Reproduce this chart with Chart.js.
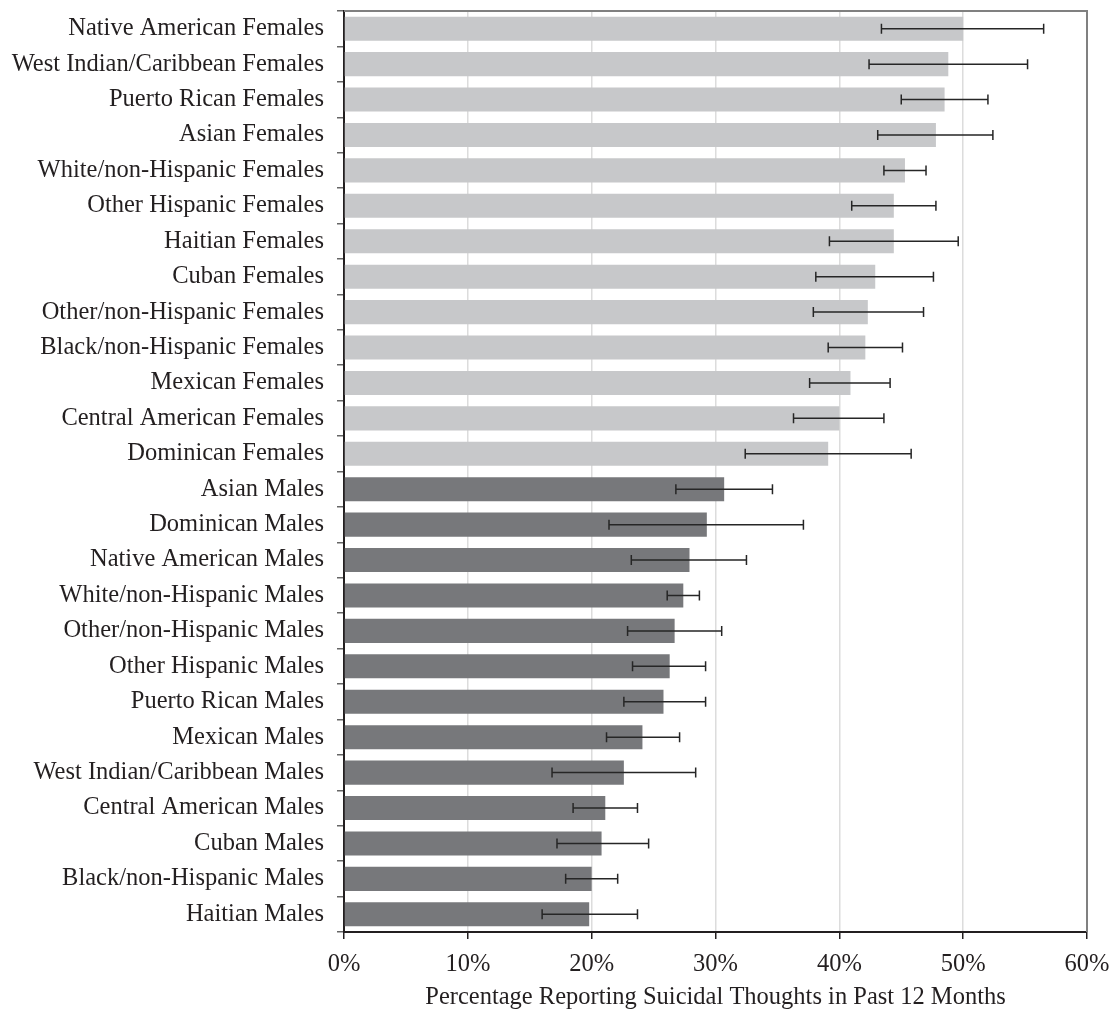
<!DOCTYPE html>
<html>
<head>
<meta charset="utf-8">
<script src="https://cdn.jsdelivr.net/npm/chart.js@4/dist/chart.umd.min.js"></script>
<style>
  html, body { margin: 0; padding: 0; background: #ffffff; }
  #wrap { width: 1113px; height: 1009px; position: relative; }
</style>
</head>
<body>
<div id="wrap"><canvas id="chart"></canvas></div>
<script>
// Groups, ordered top to bottom
const categories = [
  "Native American Females", "West Indian/Caribbean Females", "Puerto Rican Females",
  "Asian Females", "White/non-Hispanic Females", "Other Hispanic Females",
  "Haitian Females", "Cuban Females", "Other/non-Hispanic Females",
  "Black/non-Hispanic Females", "Mexican Females", "Central American Females",
  "Dominican Females", "Asian Males", "Dominican Males", "Native American Males",
  "White/non-Hispanic Males", "Other/non-Hispanic Males", "Other Hispanic Males",
  "Puerto Rican Males", "Mexican Males", "West Indian/Caribbean Males",
  "Central American Males", "Cuban Males", "Black/non-Hispanic Males", "Haitian Males"
];

// Percent reporting suicidal thoughts in the past 12 months
const percentValues = [
  50.0, 48.8, 48.5, 47.8, 45.3, 44.4, 44.4, 42.9, 42.3, 42.1, 40.9, 40.0, 39.1,
  30.7, 29.3, 27.9, 27.4, 26.7, 26.3, 25.8, 24.1, 22.6, 21.1, 20.8, 20.0, 19.8
];

// Confidence interval bounds
const ciLower = [
  43.4, 42.4, 45.0, 43.1, 43.6, 41.0, 39.2, 38.1, 37.9, 39.1, 37.6, 36.3, 32.4,
  26.8, 21.4, 23.2, 26.1, 22.9, 23.3, 22.6, 21.2, 16.8, 18.5, 17.2, 17.9, 16.0
];
const ciUpper = [
  56.5, 55.2, 52.0, 52.4, 47.0, 47.8, 49.6, 47.6, 46.8, 45.1, 44.1, 43.6, 45.8,
  34.6, 37.1, 32.5, 28.7, 30.5, 29.2, 29.2, 27.1, 28.4, 23.7, 24.6, 22.1, 23.7
];

const xTickValues = [0, 10, 20, 30, 40, 50, 60];
const xTitle = "Percentage Reporting Suicidal Thoughts in Past 12 Months";

const FEMALE_COLOR = "#c7c8ca";
const MALE_COLOR = "#77787b";
const TEXT_COLOR = "#231f20";
const FONT = "'Liberation Serif', 'Times New Roman', serif";
const FONT_SIZE = 24.5;

const barColors = categories.map(c => c.endsWith("Females") ? FEMALE_COLOR : MALE_COLOR);

// Draws the confidence-interval whiskers on top of each bar
const errorBars = {
  id: "errorBars",
  afterDatasetsDraw(chart) {
    const ctx = chart.ctx;
    const xs = chart.scales.x;
    const meta = chart.getDatasetMeta(0);
    ctx.save();
    ctx.strokeStyle = "#262626";
    ctx.lineWidth = 1.5;
    meta.data.forEach((bar, i) => {
      const y = bar.y;
      const x0 = xs.getPixelForValue(ciLower[i]);
      const x1 = xs.getPixelForValue(ciUpper[i]);
      const cap = 5;
      ctx.beginPath();
      ctx.moveTo(x0, y); ctx.lineTo(x1, y);
      ctx.moveTo(x0, y - cap); ctx.lineTo(x0, y + cap);
      ctx.moveTo(x1, y - cap); ctx.lineTo(x1, y + cap);
      ctx.stroke();
    });
    ctx.restore();
  }
};

// Grey frame along the top and right edges of the plot area
const frame = {
  id: "frame",
  afterDraw(chart) {
    const a = chart.chartArea;
    const ctx = chart.ctx;
    ctx.save();
    ctx.strokeStyle = "#808080";
    ctx.lineWidth = 2;
    ctx.beginPath();
    ctx.moveTo(a.left, a.top);
    ctx.lineTo(a.right, a.top);
    ctx.lineTo(a.right, a.bottom);
    ctx.stroke();
    ctx.restore();
  }
};

new Chart(document.getElementById("chart"), {
  type: "bar",
  data: {
    labels: categories,
    datasets: [{
      data: percentValues,
      backgroundColor: barColors,
      borderWidth: 0,
      categoryPercentage: 1.0,
      barPercentage: 0.68
    }]
  },
  options: {
    indexAxis: "y",
    responsive: true,
    maintainAspectRatio: false,
    animation: false,
    layout: { padding: { top: 11, right: 26, bottom: 0, left: 0 } },
    plugins: {
      legend: { display: false },
      tooltip: { enabled: false }
    },
    scales: {
      x: {
        min: 0,
        max: 60,
        afterBuildTicks(axis) {
          axis.ticks = xTickValues.map(v => ({ value: v }));
        },
        afterFit(axis) { axis.height = 77; axis.paddingLeft = 0; axis.paddingRight = 0; },
        grid: {
          color: ctx => (ctx.tick && (ctx.tick.value === 0 || ctx.tick.value === 60)) ? "rgba(0,0,0,0)" : "#dcdcdc",
          lineWidth: 1.5,
          tickColor: "#231f20",
          tickLength: 7,
          drawTicks: true
        },
        border: { color: "#231f20", width: 2 },
        ticks: {
          color: TEXT_COLOR,
          font: { family: FONT, size: FONT_SIZE },
          padding: 11,
          callback: v => v + "%"
        },
        title: {
          display: true,
          text: xTitle,
          color: TEXT_COLOR,
          font: { family: FONT, size: FONT_SIZE },
          padding: { top: 0, bottom: -3 }
        }
      },
      y: {
        afterFit(axis) { axis.width = 344; axis.paddingTop = 0; axis.paddingBottom = 0; },
        grid: {
          offset: true,
          drawOnChartArea: false,
          tickColor: "#666666",
          tickLength: 7,
          lineWidth: 1.5
        },
        border: { color: "#231f20", width: 2 },
        ticks: {
          color: TEXT_COLOR,
          font: { family: FONT, size: FONT_SIZE },
          padding: 13,
          autoSkip: false
        }
      }
    }
  },
  plugins: [errorBars, frame]
});
</script>
</body>
</html>
